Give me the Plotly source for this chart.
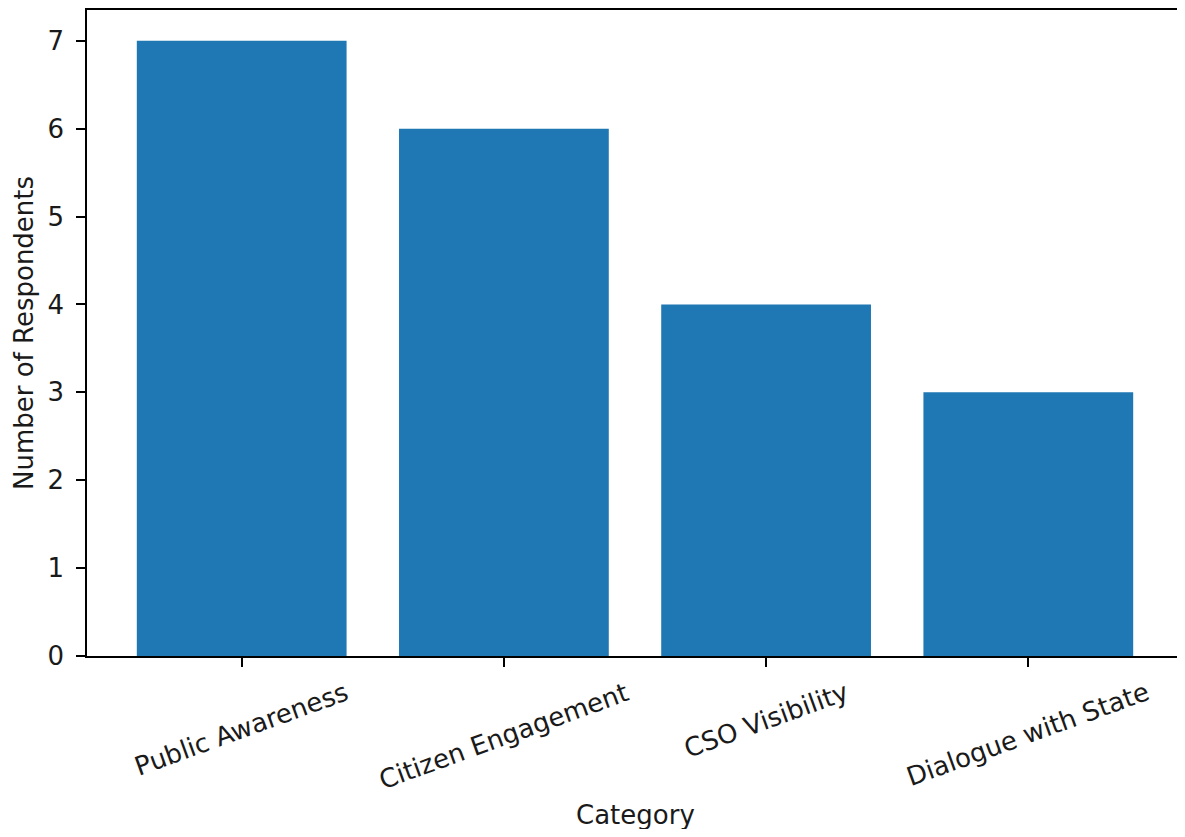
import plotly.graph_objects as go

categories = ["Public Awareness", "Citizen Engagement", "CSO Visibility", "Dialogue with State"]
respondents = [7, 6, 4, 3]
y_ticks = [0, 1, 2, 3, 4, 5, 6, 7]

FONT = "DejaVu Sans"
FS = 26
TXT = "#1a1a1a"
BAR = "#1f77b4"

x_idx = list(range(len(categories)))

fig = go.Figure(go.Bar(x=x_idx, y=respondents, width=0.8, marker=dict(color=BAR, line=dict(width=0))))

annotations = []
for i, c in zip(x_idx, categories):
    annotations.append(dict(x=i, xref="x", y=0, yref="paper", text=c, showarrow=False,
                            textangle=-20, xanchor="center", yanchor="top", yshift=-18,
                            font=dict(family=FONT, size=FS, color=TXT)))
annotations.append(dict(x=0.5, xref="paper", y=0, yref="paper", text="Category", showarrow=False,
                        xanchor="center", yanchor="middle", yshift=-159,
                        font=dict(family=FONT, size=FS, color=TXT)))
annotations.append(dict(x=0, xref="paper", y=0.5, yref="paper", text="Number of Respondents",
                        showarrow=False, textangle=-90, xanchor="center", yanchor="middle",
                        xshift=-63, font=dict(family=FONT, size=FS, color=TXT)))

# page body has an 8px default margin, so the figure is sized to fit the window
fig.update_layout(
    width=1177, height=821,
    margin=dict(l=79, r=2, t=0, b=173, pad=0),
    plot_bgcolor="white", paper_bgcolor="white",
    showlegend=False,
    annotations=annotations,
    font=dict(family=FONT, size=FS, color=TXT),
)
fig.update_xaxes(range=[-0.59, 3.59], tickmode="array", tickvals=x_idx, showticklabels=False,
                 ticks="outside", ticklen=9, tickwidth=1.5, tickcolor="black",
                 showline=True, linecolor="black", linewidth=1.5, mirror=True,
                 showgrid=False, zeroline=False)
fig.update_yaxes(range=[0, 7.35], tickmode="array", tickvals=y_ticks,
                 ticks="outside", ticklen=9, tickwidth=1.5, tickcolor="black",
                 ticklabelstandoff=7,
                 tickfont=dict(family=FONT, size=FS, color=TXT),
                 showline=True, linecolor="black", linewidth=1.5, mirror=True,
                 showgrid=False, zeroline=False)

fig.write_html("out.html")
